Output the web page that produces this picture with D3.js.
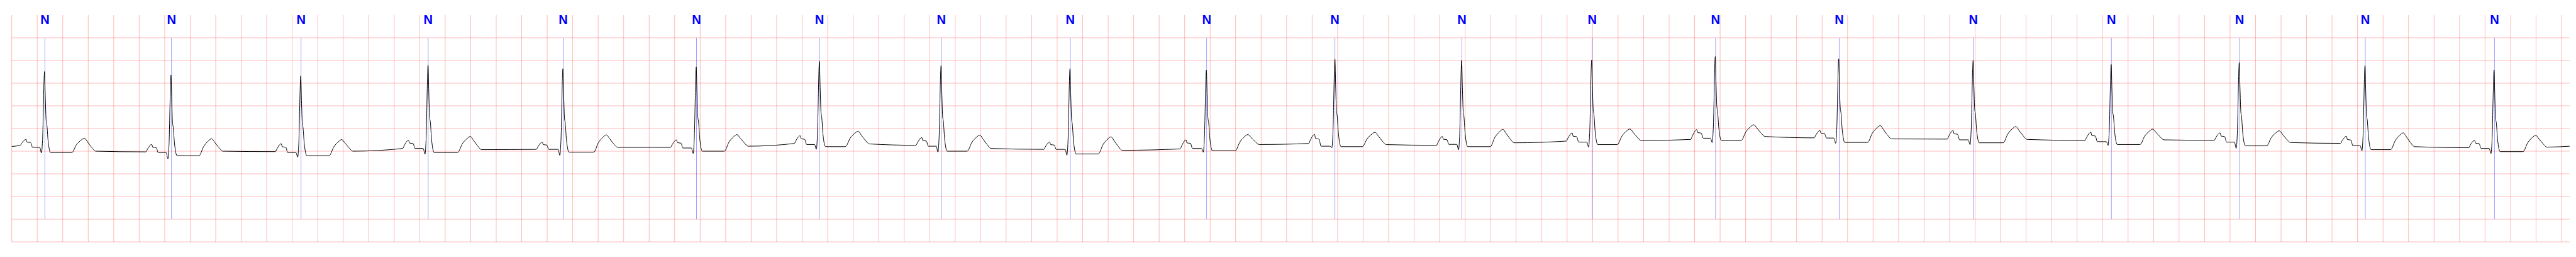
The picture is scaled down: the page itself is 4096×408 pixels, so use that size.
<!DOCTYPE html>
<html><head><meta charset="utf-8">
<script src="https://cdn.jsdelivr.net/npm/d3@7"></script>
<style>html,body{margin:0;padding:0;background:#fff;overflow:hidden}</style>
</head><body>
<svg id="c" width="4096" height="408"></svg>
<script>
// ---- data (seconds / mV) ----
const annTimes = [0.2603, 1.2532, 2.2691, 3.2663, 4.3255, 5.3712, 6.3352, 7.2916, 8.3030, 9.3726,
                  10.3787, 11.3748, 12.3969, 13.3643, 14.3346, 15.3868, 16.4693, 17.4743, 18.4605, 19.4741];
const annLabels = ["N","N","N","N","N","N","N","N","N","N","N","N","N","N","N","N","N","N","N","N"];

const rTimes = [0.2573, 1.2492, 2.2670, 3.2655, 4.3234, 5.3691, 6.3352, 7.2894, 8.3008, 9.3704,
                10.3787, 11.3727, 12.3926, 13.3622, 14.3304, 15.3847, 16.4675, 17.4722, 18.4584, 19.4706];
const rAmps  = [1.755, 1.678, 1.66, 1.895, 1.82, 1.86, 1.98, 1.885, 1.82, 1.79,
                2.03, 2.0, 2.01, 2.086, 2.035, 2.0, 1.91, 1.955, 1.885, 1.79];
const qAmps  = [-0.04, -0.167, -0.13, -0.067, -0.09, -0.05, 0.04, -0.02, -0.087, -0.02,
                0.077, 0.03, 0.09, 0.19, 0.173, 0.143, 0.128, 0.064, 0.01, -0.054];
const pTimes = [0.1127, 1.0983, 2.1141, 3.1126, 4.1613, 5.2140, 6.1844, 7.1386, 8.1414, 9.2108,
                10.2190, 11.2218, 12.2396, 13.2164, 14.1836, 15.2274, 16.3078, 17.3219, 18.3124, 19.3181];
const pAmps  = [0.26, 0.15, 0.165, 0.243, 0.2, 0.25, 0.34, 0.30, 0.2, 0.248,
                0.37, 0.324, 0.4, 0.475, 0.455, 0.455, 0.417, 0.404, 0.33, 0.24];
const prLevels = [0.085, -0.03, -0.03, 0.06, 0.04, 0.07, 0.147, 0.11, 0.04, 0.06,
                  0.11, 0.15, 0.2, 0.286, 0.29, 0.25, 0.21, 0.2, 0.12, 0.06];
const stLevels = [-0.03, -0.10, -0.10, -0.03, -0.02, 0.0, 0.1, 0.0, -0.06, 0.01,
                  0.1, 0.1, 0.145, 0.235, 0.193, 0.185, 0.147, 0.117, 0.034, -0.01];
const tTimes = [0.5700, 1.5677, 2.5885, 3.5967, 4.6639, 5.6882, 6.6381, 7.5934, 8.6220, 9.6960,
                10.6934, 11.6962, 12.6924, 13.6641, 14.6559, 15.7191, 16.7930, 17.7856, 18.7586, 19.7971];
const tAmps  = [0.286, 0.273, 0.256, 0.324, 0.36, 0.366, 0.437, 0.354, 0.316, 0.366,
                0.417, 0.48, 0.49, 0.583, 0.563, 0.543, 0.487, 0.45, 0.404, 0.35];
const prePLevels = [0.13, -0.015, -0.01, 0.06, 0.04, 0.085, 0.17, 0.13, 0.04, 0.05,
                    0.17, 0.13, 0.223, 0.26, 0.294, 0.266, 0.236, 0.24, 0.173, 0.077];
const postTLevels = [0.0, 0.0, 0.0, 0.034, 0.085, 0.11, 0.16, 0.06, 0.02, 0.147,
                     0.145, 0.185, 0.235, 0.324, 0.27, 0.26, 0.25, 0.19, 0.1, 0.09];
const traceStart = [0, 0.105];
const traceEnd = [20.064, 0.11];

// wave outlines: [time offset (s), fraction of wave height]
const pShape = [[-0.046, 0], [-0.034, 0.35], [0, 1], [0.008, 0.65], [0.035, 0.6], [0.051, 0]];
const qrsShape = [[0.0059, 0.69], [0.0121, 0.41], [0.018, 0.35], [0.0276, 0.15], [0.048, 0]];
const tShape = [[-0.099, 0], [-0.062, 0.55], [-0.027, 0.86], [0, 1], [0.027, 0.68], [0.054, 0.33], [0.089, 0]];

const xDomain = [0, 20.064];
const yDomain = [-2, 3];
const xGridStep = 0.2, yGridStep = 0.5;

// ---- drawing ----
const S = 0.544;
const svg = d3.select("#c");
const x = d3.scaleLinear().domain(xDomain).range([34.3 * S, 7511 * S]);
const y = d3.scaleLinear().domain(yDomain).range([706 * S, 44 * S]);

const gridColor = "rgba(255,0,0,0.27)";
const xGrid = d3.range(0, Math.round(xDomain[1] / xGridStep) + 1).map(i => +(i * xGridStep).toFixed(3)).filter(v => v <= xDomain[1]);
const yGrid = d3.range(0, 10).map(i => yDomain[0] + i * yGridStep);

svg.append("rect").attr("width", 4096).attr("height", 408).attr("fill", "#fff");

svg.append("g").selectAll("line").data(xGrid).join("line")
  .attr("x1", d => x(d)).attr("x2", d => x(d))
  .attr("y1", y(yDomain[1])).attr("y2", y(yDomain[0]))
  .attr("stroke", gridColor).attr("stroke-width", 1.0);

svg.append("g").selectAll("line").data(yGrid).join("line")
  .attr("x1", x(xDomain[0])).attr("x2", x(xDomain[1]))
  .attr("y1", d => y(d)).attr("y2", d => y(d))
  .attr("stroke", gridColor).attr("stroke-width", 1.1);

// annotation lines
svg.append("g").selectAll("line").data(annTimes).join("line")
  .attr("x1", d => x(d)).attr("x2", d => x(d))
  .attr("y1", y(2.5)).attr("y2", y(-1.5))
  .attr("stroke", "rgba(0,0,255,0.5)").attr("stroke-width", 0.75);

// build trace
const pts = [traceStart];
for (let i = 0; i < rTimes.length; i++) {
  const pre = prePLevels[i], pr = prLevels[i], st = stLevels[i], post = postTLevels[i];
  pShape.forEach(([dt, f], k) => {
    const base = k < 3 ? pre : pr;
    pts.push([pTimes[i] + dt, base + f * (pAmps[i] - base)]);
  });
  pts.push([rTimes[i] - 0.038, pr]);
  pts.push([rTimes[i] - 0.024, qAmps[i]]);
  pts.push([rTimes[i] - 0.016, qAmps[i] + 0.15 * (rAmps[i] - qAmps[i])]);
  pts.push([rTimes[i], rAmps[i]]);
  qrsShape.forEach(([dt, f]) => pts.push([rTimes[i] + dt, st + f * (rAmps[i] - st)]));
  tShape.forEach(([dt, f], k) => {
    const base = k < 4 ? st : post;
    pts.push([tTimes[i] + dt, base + f * (tAmps[i] - base)]);
  });
}
pts.push(traceEnd);

svg.append("path").datum(pts)
  .attr("fill", "none").attr("stroke", "#000").attr("stroke-width", 1.0)
  .attr("stroke-linejoin", "round")
  .attr("d", d3.line().x(d => x(d[0])).y(d => y(d[1])).curve(d3.curveMonotoneX));

// labels
svg.append("g").selectAll("text").data(annTimes).join("text")
  .attr("x", d => x(d)).attr("y", 70.7 * S)
  .attr("text-anchor", "middle")
  .attr("font-family", "'Liberation Sans', Arial, sans-serif")
  .attr("font-weight", "bold").attr("font-size", 37 * S)
  .attr("fill", "#0000ff")
  .text((d, i) => annLabels[i]);
</script>
</body></html>
